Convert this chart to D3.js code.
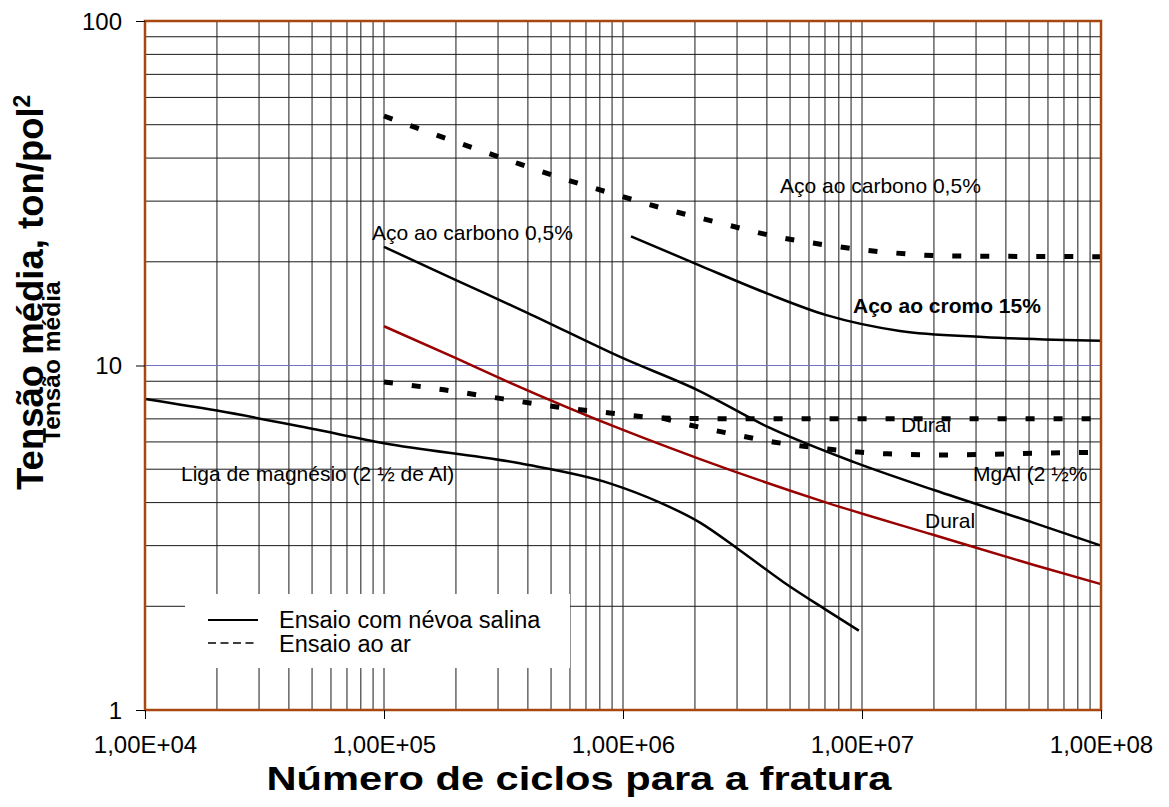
<!DOCTYPE html>
<html>
<head>
<meta charset="utf-8">
<script src="https://cdn.jsdelivr.net/npm/d3@7"></script>
<style>
  html, body { margin: 0; padding: 0; background: #fff; }
  svg { display: block; font-family: "Liberation Sans", Arial, sans-serif; }
</style>
</head>
<body>
<svg id="chart" width="1169" height="807"></svg>
<script>
// Fatigue curves: mean stress (ton/pol²) vs number of cycles to fracture

// Aço ao carbono 0,5% — salt spray
const carbonSaltN = [1e5, 2e5, 4e5, 1e6, 2.04e6, 4.1e6, 9.2e6, 2e7, 5.2e7, 1e8];
const carbonSaltS = [22.1, 17.7, 14.2, 10.5, 8.5, 6.6, 5.25, 4.35, 3.5, 3.0];

// Aço ao carbono 0,5% — air
const carbonAirN = [1e5, 1.84e5, 3.3e5, 5.45e5, 9.1e5, 1.44e6, 2.45e6, 4.2e6, 7.3e6, 1.28e7, 2.29e7, 1e8];
const carbonAirS = [53, 45.5, 39.5, 35.1, 31.5, 28.7, 26.1, 23.8, 22.3, 21.3, 20.8, 20.7];

// Aço ao cromo 15% — salt spray
const chromeSaltN = [1.08e6, 2.1e6, 4e6, 7.1e6, 1.44e7, 3.2e7, 1e8];
const chromeSaltS = [23.7, 19.5, 16.2, 14.0, 12.6, 12.1, 11.8];

// Dural — salt spray
const duralSaltN = [1e5, 2e5, 3.15e5, 1e6, 2.1e6, 7.1e6, 2e7, 5.2e7, 1e8];
const duralSaltS = [13.0, 10.5, 9.1, 6.5, 5.35, 4.0, 3.22, 2.64, 2.32];

// Dural — air
const duralAirN = [1e5, 1.78e5, 3.15e5, 5.3e5, 8.8e5, 1.46e6, 3.2e6, 1e7, 1e8];
const duralAirS = [8.96, 8.5, 8.0, 7.58, 7.28, 7.04, 7.0, 7.0, 7.0];

// Liga de magnésio (2 ½ de Al) — salt spray
const magSaltN = [1e4, 2e4, 5e4, 1e5, 3.7e5, 8.8e5, 1.43e6, 2.1e6, 3.1e6, 4.7e6, 7.1e6, 9.7e6];
const magSaltS = [8.0, 7.4, 6.55, 5.95, 5.2, 4.55, 4.0, 3.5, 2.9, 2.35, 1.95, 1.70];

// MgAl (2 ½%) — air
const magAirN = [1.46e6, 1.9e6, 2.5e6, 4.25e6, 7.2e6, 1.28e7, 2.29e7, 5.56e7, 1e8];
const magAirS = [7.04, 6.72, 6.45, 6.0, 5.72, 5.54, 5.5, 5.57, 5.6];

// Axis ticks
const xTicks = [1e4, 1e5, 1e6, 1e7, 1e8];
const xTickLabels = ["1,00E+04", "1,00E+05", "1,00E+06", "1,00E+07", "1,00E+08"];
const yTicks = [1, 10, 100];
const yTickLabels = ["1", "10", "100"];

const legendItems = ["Ensaio com névoa salina", "Ensaio ao ar"];

const svg = d3.select("#chart");
const m = { left: 145, right: 1101, top: 21, bottom: 710 };

const x = d3.scaleLog().domain([1e4, 1e8]).range([m.left, m.right]);
const y = d3.scaleLog().domain([1, 100]).range([m.bottom, m.top]);

// Grid
const grid = svg.append("g");
const xGrid = [];
for (let e = 4; e < 8; e++) for (let k = 1; k < 10; k++) xGrid.push(k * Math.pow(10, e));
xGrid.push(1e8);
const yGrid = [];
for (let e = 0; e < 2; e++) for (let k = 1; k < 10; k++) yGrid.push(k * Math.pow(10, e));
yGrid.push(100);

grid.selectAll("line.v").data(xGrid).join("line")
  .attr("x1", d => x(d)).attr("x2", d => x(d))
  .attr("y1", m.top).attr("y2", m.bottom)
  .attr("stroke", "#1a1a1a").attr("stroke-width", 1);

grid.selectAll("line.h").data(yGrid).join("line")
  .attr("x1", m.left).attr("x2", m.right)
  .attr("y1", d => y(d)).attr("y2", d => y(d))
  .attr("stroke", d => d === 10 ? "#7070c8" : "#1a1a1a")
  .attr("stroke-width", 1);

// Curves
const line = d3.line()
  .x(d => x(d[0])).y(d => y(d[1]))
  .curve(d3.curveMonotoneX);

function series(N, S) { return N.map((n, i) => [n, S[i]]); }

const curves = [
  { N: carbonSaltN, S: carbonSaltS, color: "#000", dash: null },
  { N: chromeSaltN, S: chromeSaltS, color: "#000", dash: null },
  { N: duralSaltN, S: duralSaltS, color: "#990000", dash: null },
  { N: magSaltN, S: magSaltS, color: "#000", dash: null },
  { N: carbonAirN, S: carbonAirS, color: "#000", dash: "9,19" },
  { N: duralAirN, S: duralAirS, color: "#000", dash: "9,19" },
  { N: magAirN, S: magAirS, color: "#000", dash: "9,19" }
];

svg.append("g").selectAll("path").data(curves).join("path")
  .attr("d", d => line(series(d.N, d.S)))
  .attr("fill", "none")
  .attr("stroke", d => d.color)
  .attr("stroke-width", d => d.dash ? 5 : 2.5)
  .attr("stroke-dasharray", d => d.dash);

// Legend (white box over grid)
const lg = svg.append("g");
lg.append("rect").attr("x", 185).attr("y", 594).attr("width", 385).attr("height", 74).attr("fill", "#fff");
lg.append("line").attr("x1", 208).attr("x2", 258).attr("y1", 620).attr("y2", 620)
  .attr("stroke", "#000").attr("stroke-width", 2);
lg.append("line").attr("x1", 208).attr("x2", 258).attr("y1", 643).attr("y2", 643)
  .attr("stroke", "#000").attr("stroke-width", 1.3).attr("stroke-dasharray", "8,4.5");
lg.selectAll("text").data(legendItems).join("text")
  .attr("x", 279).attr("y", (d, i) => 628 + i * 24)
  .attr("font-size", 23.5).attr("fill", "#000").text(d => d);

// Curve annotations
const notes = [
  { t: "Aço ao carbono 0,5%", x: 780, y: 193, b: false },
  { t: "Aço ao carbono 0,5%", x: 372, y: 240, b: false },
  { t: "Aço ao cromo 15%", x: 853, y: 313, b: true },
  { t: "Liga de magnésio (2 ½ de Al)", x: 181, y: 481, b: false },
  { t: "Dural", x: 901, y: 432, b: false },
  { t: "MgAl (2 ½%", x: 973, y: 481, b: false },
  { t: "Dural", x: 925, y: 528, b: false }
];
svg.append("g").selectAll("text").data(notes).join("text")
  .attr("x", d => d.x).attr("y", d => d.y)
  .attr("font-size", 21).attr("font-weight", d => d.b ? "bold" : "normal")
  .attr("fill", "#000").text(d => d.t);

// Plot border
svg.append("rect")
  .attr("x", m.left).attr("y", m.top)
  .attr("width", m.right - m.left).attr("height", m.bottom - m.top)
  .attr("fill", "none").attr("stroke", "#a8470f").attr("stroke-width", 2.5);

// Axes
const xAxis = svg.append("g").attr("transform", `translate(0,${m.bottom})`)
  .call(d3.axisBottom(x).tickValues(xTicks).tickSize(9)
    .tickFormat((d, i) => xTickLabels[i]));
xAxis.select(".domain").remove();
xAxis.selectAll("line").attr("stroke", "#000");
xAxis.selectAll("text").attr("font-size", 24).attr("font-family", "Liberation Sans, Arial, sans-serif")
  .attr("dy", "1.3em").attr("fill", "#000");

const yAxis = svg.append("g").attr("transform", `translate(${m.left},0)`)
  .call(d3.axisLeft(y).tickValues(yTicks).tickSize(9)
    .tickFormat((d, i) => yTickLabels[i]));
yAxis.select(".domain").remove();
yAxis.selectAll("line").attr("stroke", "#000");
yAxis.selectAll("text").attr("font-size", 24).attr("font-family", "Liberation Sans, Arial, sans-serif")
  .attr("x", -23).attr("dy", "0.35em").attr("fill", "#000");

// Axis titles
svg.append("text")
  .attr("x", 579).attr("y", 790)
  .attr("text-anchor", "middle").attr("font-size", 34).attr("font-weight", "bold")
  .attr("textLength", 625).attr("lengthAdjust", "spacingAndGlyphs")
  .text("Número de ciclos para a fratura");

const yt = svg.append("text")
  .attr("transform", "translate(43,490) rotate(-90)")
  .attr("font-size", 36.5).attr("font-weight", "bold");
yt.append("tspan").text("Tensão média, ton/pol");
yt.append("tspan").attr("dy", -13).attr("font-size", 23).text("2");

svg.append("text")
  .attr("transform", "translate(60,443) rotate(-90)")
  .attr("font-size", 24.5).attr("font-weight", "bold")
  .text("Tensão média");
</script>
</body>
</html>
